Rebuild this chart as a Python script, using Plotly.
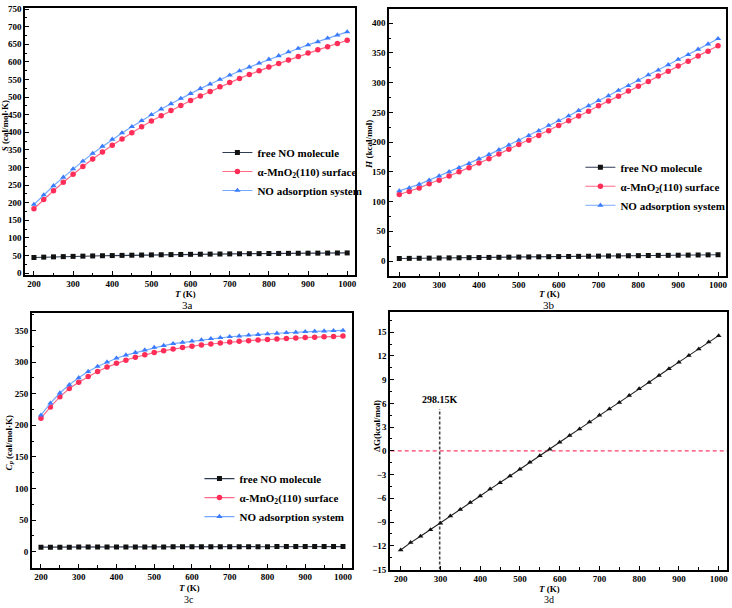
import plotly.graph_objects as go

T = [200, 225, 250, 275, 300, 325, 350, 375, 400, 425, 450, 475, 500, 525, 550, 575, 600,
     625, 650, 675, 700, 725, 750, 775, 800, 825, 850, 875, 900, 925, 950, 975, 1000]

# 3a: entropy S (cal/mol.K)
S_free = [44.5, 45.5, 46.3, 47.0, 47.7, 48.3, 48.9, 49.5, 50.0, 50.5, 51.0, 51.5, 51.9, 52.3, 52.7, 53.1, 53.5,
          53.8, 54.1, 54.4, 54.7, 55.0, 55.3, 55.5, 55.8, 56.0, 56.3, 56.5, 56.7, 56.9, 57.1, 57.3, 57.5]
S_surf = [183, 209, 234, 258, 281, 303, 324, 344, 363, 381, 399, 416, 432, 447, 462, 476, 490,
          503, 516, 529, 541, 553, 564, 575, 585, 595, 605, 615, 625, 634, 643, 652, 661]
S_ads = [195, 222, 248, 272, 296, 318, 340, 360, 380, 398, 416, 433, 450, 466, 481, 496, 510,
         524, 537, 550, 562, 574, 585, 596, 607, 617, 628, 638, 648, 657, 667, 676, 685]

# 3b: enthalpy H (kcal/mol)
H_free = [4.3, 4.5, 4.7, 4.9, 5.1, 5.3, 5.5, 5.7, 5.9, 6.1, 6.3, 6.5, 6.7, 6.9, 7.1, 7.3, 7.5,
          7.7, 7.9, 8.1, 8.3, 8.5, 8.7, 8.9, 9.1, 9.3, 9.5, 9.6, 9.8, 10.0, 10.2, 10.4, 10.6]
H_surf = [112, 117, 123, 130, 136, 143, 150, 157, 165, 172, 180, 188, 196, 203, 211, 219, 228,
          236, 244, 252, 261, 269, 277, 286, 294, 302, 311, 319, 328, 336, 345, 353, 362]
H_ads = [118, 123, 129, 136, 143, 150, 157, 164, 172, 179, 187, 195, 203, 211, 219, 228, 236,
         244, 253, 261, 270, 278, 287, 295, 304, 313, 321, 330, 339, 347, 356, 365, 374]

# 3c: heat capacity Cp (cal/mol.K)
Cp_free = [7.2, 7.2, 7.2, 7.2, 7.3, 7.3, 7.3, 7.4, 7.4, 7.5, 7.5, 7.6, 7.6, 7.6, 7.7, 7.7, 7.8,
           7.8, 7.8, 7.9, 7.9, 7.9, 8.0, 8.0, 8.0, 8.1, 8.1, 8.1, 8.1, 8.2, 8.2, 8.2, 8.2]
Cp_surf = [211, 229, 245, 258, 268, 277, 285, 292, 298, 303, 307.5, 311.5, 315, 318, 320.5, 323, 325,
           327, 328.5, 330, 331.5, 332.7, 333.8, 334.8, 335.7, 336.5, 337.3, 338, 338.7, 339.3, 339.9, 340.4, 341]
Cp_ads = [216, 235, 251, 264, 275, 285, 293, 300, 306, 311, 315, 319, 323, 326, 329, 331, 333,
          335, 337, 338.5, 340, 341, 342.5, 343.5, 344.5, 345.5, 346.5, 347, 348, 348.5, 349, 349.5, 350]

# 3d: Gibbs free energy change (kcal/mol)
dG = [-12.54, -11.6, -10.8, -9.97, -9.14, -8.23, -7.4, -6.54, -5.71, -4.84, -4.05, -3.19, -2.32, -1.45, -0.62, 0.21, 1.08,
      1.94, 2.77, 3.64, 4.51, 5.30, 6.12, 6.99, 7.86, 8.65, 9.52, 10.38, 11.21, 12.04, 12.87, 13.74, 14.56]

REF_T = 298.15
REF_LINE_Y = [-15, 5.3]
ZERO_X = [175, 1021]

names = ["free NO molecule", "α-MnO<sub>2</sub>(110) surface", "NO adsorption system"]

SERIF = "Liberation Serif, Times New Roman, serif"
C_BLACK_LINE = "#2f3b52"
C_BLACK_MK = "#111111"
C_RED_LINE = "#ff6a86"
C_RED_MK = "#ff2d58"
C_BLUE_LINE = "#74a9ff"
C_BLUE_MK = "#3a7bff"

fig = go.Figure()

def add_three(xax, yax, yf, ys, ya, legend):
    fig.add_trace(go.Scatter(x=T, y=yf, name=names[0], mode="lines+markers", xaxis=xax, yaxis=yax,
                             line=dict(color=C_BLACK_LINE, width=1.2),
                             marker=dict(symbol="square", size=5, color=C_BLACK_MK), legend=legend))
    fig.add_trace(go.Scatter(x=T, y=ys, name=names[1], mode="lines+markers", xaxis=xax, yaxis=yax,
                             line=dict(color=C_RED_LINE, width=1.2),
                             marker=dict(symbol="circle", size=5.5, color=C_RED_MK), legend=legend))
    fig.add_trace(go.Scatter(x=T, y=ya, name=names[2], mode="lines+markers", xaxis=xax, yaxis=yax,
                             line=dict(color=C_BLUE_LINE, width=1.2),
                             marker=dict(symbol="triangle-up", size=5.5, color=C_BLUE_MK), legend=legend))

add_three("x", "y", S_free, S_surf, S_ads, "legend")
add_three("x2", "y2", H_free, H_surf, H_ads, "legend2")
add_three("x3", "y3", Cp_free, Cp_surf, Cp_ads, "legend3")

fig.add_trace(go.Scatter(x=ZERO_X, y=[0, 0], mode="lines", xaxis="x4", yaxis="y4", showlegend=False,
                         line=dict(color="#ff3d6a", width=1.2, dash="4px,3px")))
fig.add_trace(go.Scatter(x=[REF_T, REF_T], y=REF_LINE_Y, mode="lines", xaxis="x4", yaxis="y4", showlegend=False,
                         line=dict(color="#444444", width=1.6, dash="3px,2px")))
fig.add_trace(go.Scatter(x=T, y=dG, mode="lines+markers", xaxis="x4", yaxis="y4", showlegend=False,
                         line=dict(color="#222222", width=1.1),
                         marker=dict(symbol="triangle-up", size=5, color="#111111")))

W, H = 732, 608
def px_x(a, b):
    return [a / W, b / W]
def px_y(top, bot):
    return [1 - bot / H, 1 - top / H]

tickfont = dict(family=SERIF, size=9, color="black", weight="bold")

def xax(dom, anchor, rng):
    return dict(domain=dom, anchor=anchor, range=rng, tickvals=[200, 300, 400, 500, 600, 700, 800, 900, 1000],
                ticks="inside", ticklen=4, tickwidth=1.2, tickcolor="black",
                minor=dict(ticks="inside", ticklen=2.5, dtick=50, tick0=0, tickcolor="black"),
                showline=True, linecolor="black", linewidth=1.5, mirror=True, showgrid=False, zeroline=False,
                tickfont=tickfont, ticklabeloverflow="allow")

def yax(dom, anchor, rng, dtick, tick0=0):
    return dict(domain=dom, anchor=anchor, range=rng, dtick=dtick, tick0=tick0,
                ticks="inside", ticklen=4, tickwidth=1.2, tickcolor="black",
                minor=dict(ticks="inside", ticklen=2.5, dtick=dtick / 2, tickcolor="black"),
                showline=True, linecolor="black", linewidth=1.5, mirror=True, showgrid=False, zeroline=False,
                tickfont=tickfont, ticklabelstandoff=0, ticklabeloverflow="allow")

legfont = dict(family=SERIF, size=11, color="black", weight="bold")
def leg(xpx, ypx):
    return dict(x=xpx / W, y=1 - ypx / H, xanchor="left", yanchor="top", bgcolor="rgba(0,0,0,0)",
                font=legfont, itemwidth=30, tracegroupgap=0)

fig.update_layout(
    width=W, height=H, margin=dict(l=0, r=0, t=0, b=0),
    paper_bgcolor="white", plot_bgcolor="white",
    xaxis=xax(px_x(25, 356), "y", [177, 1020]),
    yaxis=yax(px_y(4, 275), "x", [-5, 753], 50),
    xaxis2=xax(px_x(390, 728), "y2", [174, 1020]),
    yaxis2=yax(px_y(5, 276), "x2", [-25, 424], 50),
    xaxis3=xax(px_x(32, 353), "y3", [176, 1024]),
    yaxis3=yax(px_y(314, 572), "x3", [-25, 377], 50),
    xaxis4=xax(px_x(391, 729), "y4", [173, 1021]),
    yaxis4=yax(px_y(313, 574), "x4", [-15, 17.5], 3, -15),
    legend=leg(218, 136),
    legend2=leg(582, 151),
    legend3=leg(200, 467),
    showlegend=True,
)

def ann(text, xpx, ypx, size=10, angle=0, bold=True, height=None):
    kw = {}
    if height is not None:
        kw = dict(height=height, borderpad=0)
    fig.add_annotation(text=text, x=xpx / W, y=1 - ypx / H, xref="paper", yref="paper",
                       showarrow=False, textangle=angle, xanchor="center", yanchor="middle",
                       font=dict(family=SERIF, size=size, color="black", weight="bold" if bold else "normal"),
                       **kw)

ann("<i>S</i> (cal/mol·K)", 5, 123, size=9, angle=-90)
ann("<i>H</i> (kcal/mol)", 370, 142, size=9, angle=-90)
ann("<i>C<sub>p</sub></i> (cal/mol·K)", 9, 445, size=9, angle=-90)
ann("ΔG(kcal/mol)", 378, 428, size=9, angle=-90)

ann("<i>T</i> (K)", 186, 293.5, size=9, height=11)
ann("<i>T</i> (K)", 551, 294, size=9, height=11)
ann("<i>T</i> (K)", 190, 592.5, size=9, height=11)
ann("<i>T</i> (K)", 551, 593, size=9, height=11)

ann("3a", 188, 305.5, size=11, bold=False, height=12)
ann("3b", 551, 305.5, size=11, bold=False, height=12)
ann("3c", 190, 603.5, size=10, bold=False, height=10)
ann("3d", 551, 603.5, size=10, bold=False, height=10)

fig.add_annotation(text="298.15K", x=REF_T, y=REF_LINE_Y[1] + 0.3, xref="x4", yref="y4", showarrow=False,
                   xanchor="center", yanchor="bottom",
                   font=dict(family=SERIF, size=10, color="black", weight="bold"))

fig.write_html("out.html", config={"displayModeBar": False},
               post_script="document.body.style.margin='0';document.body.style.overflow='hidden';")
